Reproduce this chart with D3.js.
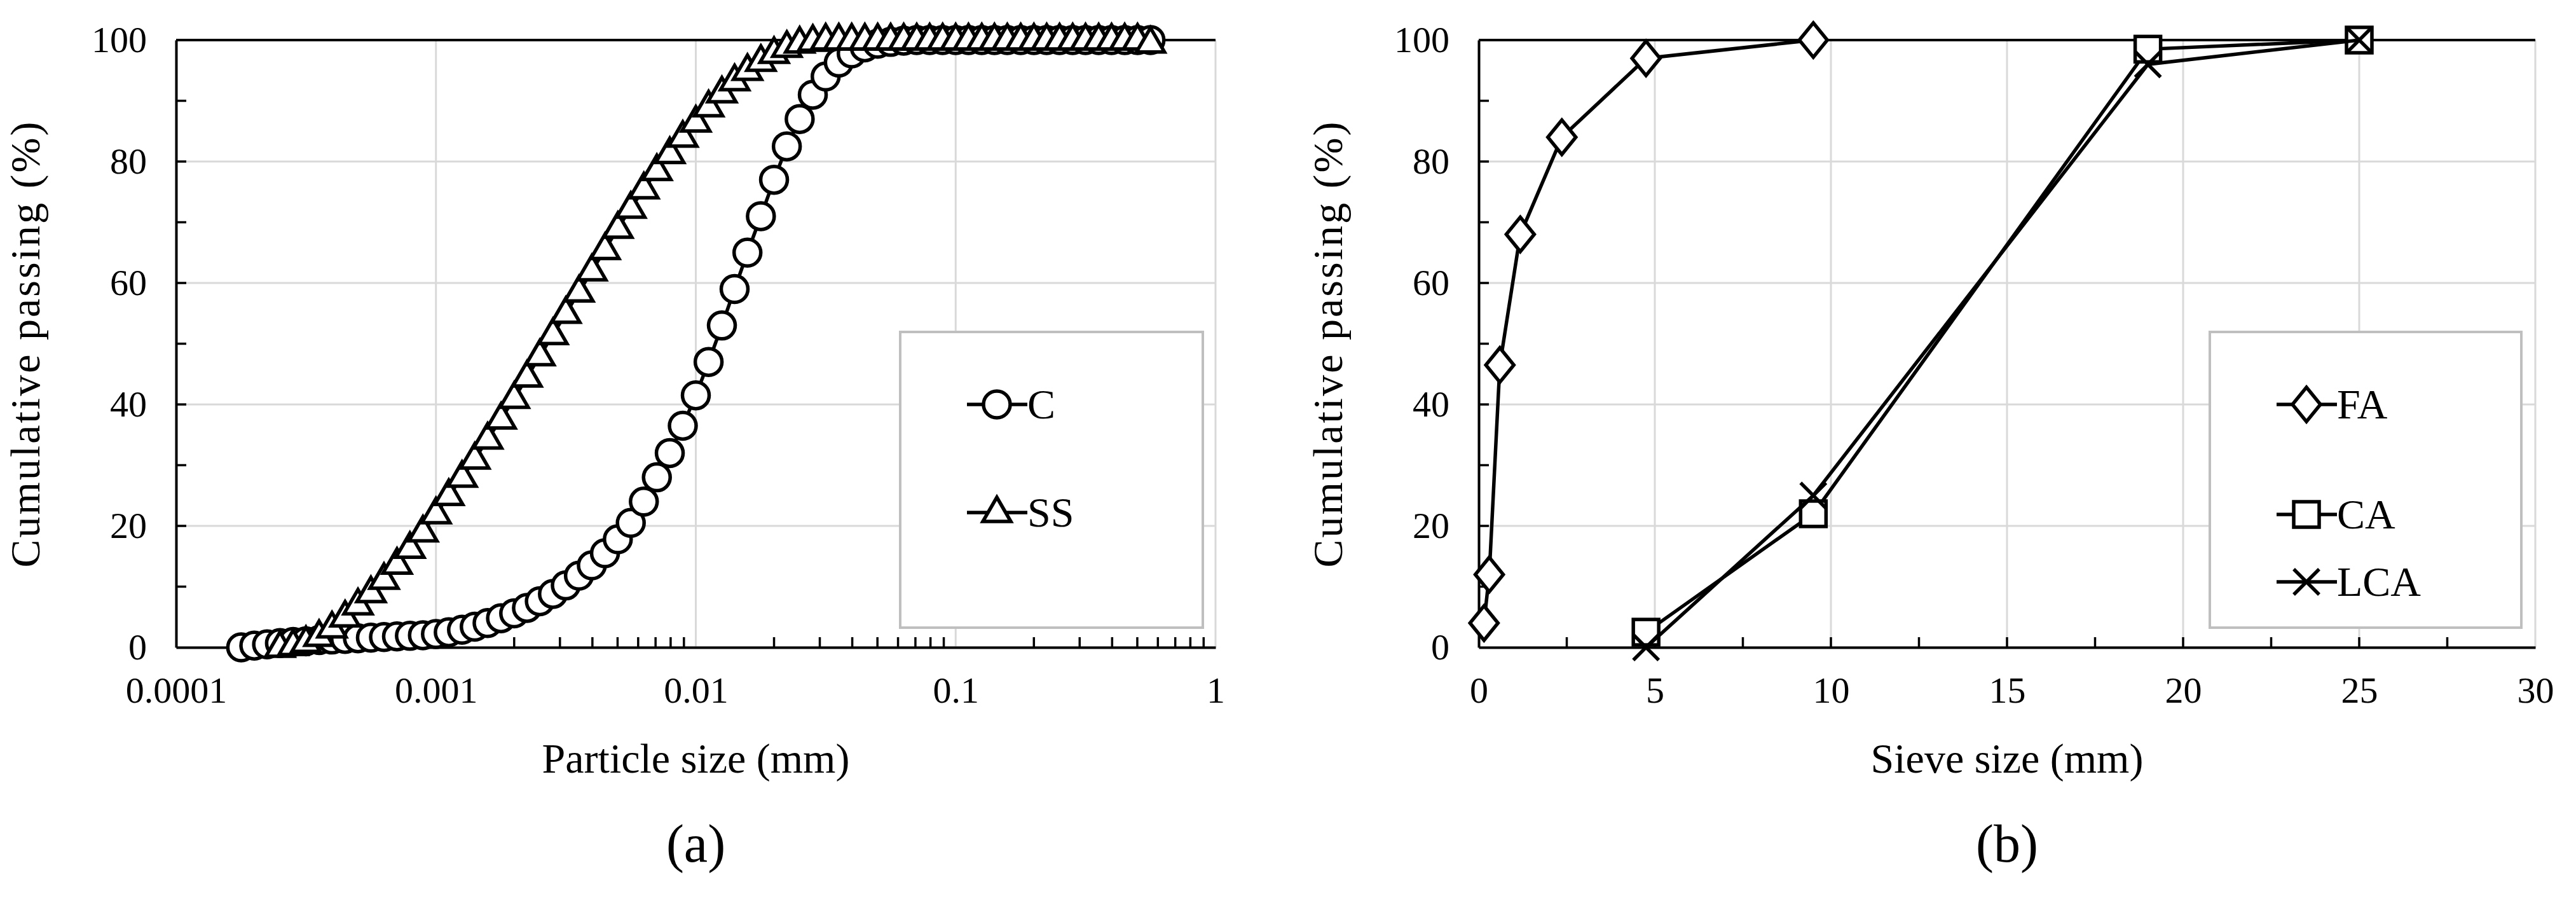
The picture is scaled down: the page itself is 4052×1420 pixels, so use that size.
<!DOCTYPE html><html><head><meta charset="utf-8">
<script src="https://cdn.jsdelivr.net/npm/d3@7"></script>
<style>body{margin:0;background:#fff}text{font-family:"Liberation Serif","Times New Roman",serif;fill:#000}</style></head>
<body><svg id="c" width="4052" height="1420"></svg>
<script>
const sizesA=[0.000178,0.0002,0.000224,0.000251,0.000282,0.000316,0.000355,0.000398,0.000447,0.000501,0.000562,0.000631,0.000708,0.000794,0.000891,0.001,0.00112,0.00126,0.00141,0.00158,0.00178,0.002,0.00224,0.00251,0.00282,0.00316,0.00355,0.00398,0.00447,0.00501,0.00562,0.00631,0.00708,0.00794,0.00891,0.01,0.0112,0.0126,0.0141,0.0158,0.0178,0.02,0.0224,0.0251,0.0282,0.0316,0.0355,0.0398,0.0447,0.0501,0.0562,0.0631,0.0708,0.0794,0.0891,0.1,0.112,0.126,0.141,0.158,0.178,0.2,0.224,0.251,0.282,0.316,0.355,0.398,0.447,0.501,0.562];
const C=[0,0.3,0.5,0.7,0.9,1.0,1.2,1.3,1.4,1.5,1.6,1.7,1.8,1.9,2.0,2.2,2.5,2.9,3.4,4.0,4.8,5.6,6.5,7.6,8.8,10.2,11.8,13.5,15.5,17.8,20.5,24,28,32,36.5,41.5,47,53,59,65,71,77,82.5,87,91,94,96.3,97.8,98.8,99.4,99.7,99.9,100,100,100,100,100,100,100,100,100,100,100,100,100,100,100,100,100,100,100];
const SS=[null,null,null,0,0.3,0.8,1.8,3.2,5,7,9,11.2,13.7,16.3,19,22,25,28,31,34.3,37.6,41,44.5,48,51.5,55,58.5,62,65.5,69,72.3,75.5,78.5,81.3,84,86.5,89,91.3,93.3,95,96.5,97.8,98.8,99.5,99.8,100,100,100,100,100,100,100,100,100,100,100,100,100,100,100,100,100,100,100,100,100,100,100,100,100,99.5];
const FAx=[0.15,0.3,0.6,1.18,2.36,4.75,9.5], FA=[4,12,46.5,68,84,97,100];
const CAx=[4.75,9.5,19,25], CA=[2.5,22,98.5,100];
const LCAx=[4.75,9.5,19,25], LCA=[0,25,96,100];
const yTicks=[0,20,40,60,80,100];
const xTicksA=[0.0001,0.001,0.01,0.1,1], xTicksB=[0,5,10,15,20,25,30];

const svg=d3.select("#c");
const T=[63,1018];
function panel(x0,x1,xs,ticks,fmt,minor,xtitle,lab){
  const g=svg.append("g");
  const y=d3.scaleLinear().domain([0,100]).range([T[1],T[0]]);
  xs.range([x0,x1]);
  g.selectAll(".gx").data(ticks).join("line").attr("x1",d=>xs(d)).attr("x2",d=>xs(d)).attr("y1",T[0]).attr("y2",T[1]).attr("stroke","#d9d9d9").attr("stroke-width",3);
  g.selectAll(".gy").data(yTicks).join("line").attr("y1",d=>y(d)).attr("y2",d=>y(d)).attr("x1",x0).attr("x2",x1).attr("stroke","#d9d9d9").attr("stroke-width",3);
  g.append("line").attr("x1",x0).attr("x2",x1).attr("y1",T[0]).attr("y2",T[0]).attr("stroke","#000").attr("stroke-width",4);
  g.append("g").attr("transform",`translate(0,${T[1]})`).call(d3.axisBottom(xs).tickValues(ticks).tickFormat(fmt).tickSize(0).tickPadding(46)).call(a=>{a.select(".domain").attr("stroke-width",4);a.selectAll("text").attr("font-size",58).attr("font-family","Liberation Serif");});
  g.append("g").attr("transform",`translate(${x0},0)`).call(d3.axisLeft(y).tickValues(yTicks).tickSize(0).tickPadding(46)).call(a=>{a.select(".domain").attr("stroke-width",4);a.selectAll("text").attr("font-size",58).attr("font-family","Liberation Serif");});
  g.selectAll(".mx").data(minor).join("line").attr("x1",d=>xs(d)).attr("x2",d=>xs(d)).attr("y1",T[1]).attr("y2",T[1]-16).attr("stroke","#000").attr("stroke-width",3.5);
  g.selectAll(".my").data(d3.range(10,100,10)).join("line").attr("x1",x0).attr("x2",x0+16).attr("y1",d=>y(d)).attr("y2",d=>y(d)).attr("stroke","#000").attr("stroke-width",3.5);
  g.append("text").attr("x",(x0+x1)/2).attr("y",1215).attr("text-anchor","middle").attr("font-size",66).text(xtitle);
  g.append("text").attr("transform",`translate(${x0-215},${(T[0]+T[1])/2}) rotate(-90)`).attr("text-anchor","middle").attr("font-size",66).attr("letter-spacing",3).text("Cumulative passing (%)");
  g.append("text").attr("x",(x0+x1)/2).attr("y",1355).attr("text-anchor","middle").attr("font-size",84).text(lab);
  return {g,y};
}
function marker(g,type,cx,cy){
  const s={fill:"#fff",stroke:"#000","stroke-width":5.5};
  let e;
  if(type==="circle") e=g.append("circle").attr("cx",cx).attr("cy",cy).attr("r",21);
  else if(type==="tri") e=g.append("path").attr("d",`M${cx},${cy-24}L${cx+22},${cy+14}L${cx-22},${cy+14}Z`);
  else if(type==="diamond") e=g.append("path").attr("d",`M${cx},${cy-27}L${cx+22},${cy}L${cx},${cy+27}L${cx-22},${cy}Z`);
  else if(type==="square") e=g.append("rect").attr("x",cx-20).attr("y",cy-20).attr("width",40).attr("height",40);
  else { e=g.append("path").attr("d",`M${cx-20},${cy-20}L${cx+20},${cy+20}M${cx+20},${cy-20}L${cx-20},${cy+20}`).attr("stroke","#000").attr("stroke-width",5.5); return;}
  Object.entries(s).forEach(([k,v])=>e.attr(k,v));
}
function series(g,xs,y,X,Y,type){
  const pts=X.map((x,i)=>[x,Y[i]]).filter(p=>p[1]!=null);
  g.append("path").attr("d",d3.line().x(p=>xs(p[0])).y(p=>y(p[1]))(pts)).attr("fill","none").attr("stroke","#000").attr("stroke-width",5.5);
  pts.forEach(p=>marker(g,type,xs(p[0]),y(p[1])));
}
function legend(g,x,yb,w,h,items){
  g.append("rect").attr("x",x).attr("y",yb).attr("width",w).attr("height",h).attr("fill","#fff").attr("stroke","#bfbfbf").attr("stroke-width",4);
  items.forEach(([t,ty,cy])=>{
    g.append("line").attr("x1",x+105).attr("x2",x+200).attr("y1",cy).attr("y2",cy).attr("stroke","#000").attr("stroke-width",5.5);
    marker(g,ty,x+152,cy);
    g.append("text").attr("x",x+200).attr("y",cy+22).attr("font-size",66).text(t);
  });
}
// Panel a
const xa=d3.scaleLog().domain([0.0001,1]);
const minorA=[];[0.0001,0.001,0.01,0.1].forEach(b=>{for(let k=2;k<=9;k++)minorA.push(b*k);});
const A=panel(277,1912,xa,xTicksA,d=>String(d),minorA,"Particle size (mm)","(a)");
series(A.g,xa,A.y,sizesA,C,"circle");
series(A.g,xa,A.y,sizesA,SS,"tri");
legend(A.g,1416,522,476,465,[["C","circle",636],["SS","tri",806]]);
// Panel b
const xb=d3.scaleLinear().domain([0,30]);
const B=panel(2326,3988,xb,xTicksB,d=>String(d),d3.range(2.5,30,2.5),"Sieve size (mm)","(b)");
series(B.g,xb,B.y,FAx,FA,"diamond");
series(B.g,xb,B.y,CAx,CA,"square");
series(B.g,xb,B.y,LCAx,LCA,"x");
legend(B.g,3476,522,490,465,[["FA","diamond",636],["CA","square",809],["LCA","x",915]]);
</script></body></html>
